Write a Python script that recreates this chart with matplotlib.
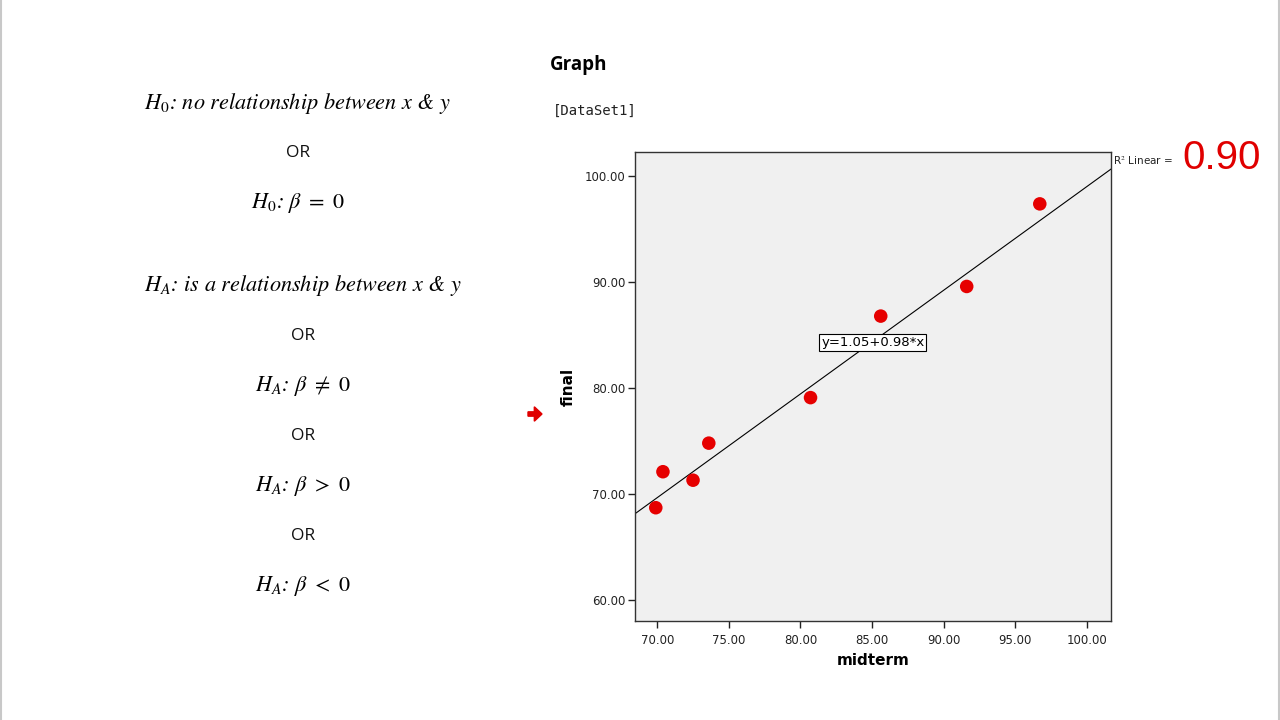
import numpy as np
import matplotlib.pyplot as plt
import matplotlib.patches as mpatches

# data
midterm = [69.9, 70.4, 72.5, 73.6, 80.7, 85.6, 91.6, 96.7]
final = [68.7, 72.1, 71.3, 74.8, 79.1, 86.8, 89.6, 97.4]
intercept = 1.05
slope = 0.98
r2_text = "0.90"
xticks = [70, 75, 80, 85, 90, 95, 100]
yticks = [60, 70, 80, 90, 100]

hyp_lines = [
    r"$H_0$: no relationship between $x$ & $y$",
    "OR",
    r"$H_0$: $\beta\ =\ 0$",
    r"$H_A$: is a relationship between $x$ & $y$",
    "OR",
    r"$H_A$: $\beta\ \neq\ 0$",
    "OR",
    r"$H_A$: $\beta\ >\ 0$",
    "OR",
    r"$H_A$: $\beta\ <\ 0$",
]
hyp_xy = [(298, 103), (298, 153), (298, 203), (303, 286), (303, 336),
          (303, 386), (303, 436), (303, 486), (303, 536), (303, 586)]

plt.rcParams['mathtext.fontset'] = 'stix'

fig = plt.figure(figsize=(12.8, 7.2), dpi=100)
W, H = 1280, 720

def fx(px):
    return px / W

def fy(py):
    return 1 - py / H

# slide border
fig.add_artist(plt.Line2D([0.001, 0.001], [0, 1], color='#c8c8c8', lw=1.5, transform=fig.transFigure))
fig.add_artist(plt.Line2D([0.999, 0.999], [0, 1], color='#c8c8c8', lw=1.5, transform=fig.transFigure))

# left text block
for txt, (px, py) in zip(hyp_lines, hyp_xy):
    if txt == "OR":
        fig.text(fx(px), fy(py), txt, ha='center', va='center', fontsize=12.5,
                 family='Open Sans', color='#111111')
    else:
        fig.text(fx(px), fy(py), txt, ha='center', va='center', fontsize=16,
                 family='STIXGeneral', style='italic', color='black')

# headings
fig.text(fx(550), fy(65), "Graph", fontsize=13.5, fontweight='bold', ha='left', va='center',
         family='Open Sans')
fig.text(fx(553), fy(111), "[DataSet1]", fontsize=10, ha='left', va='center',
         family='DejaVu Sans Mono', color='#222222')

# red arrow
fig.add_artist(mpatches.FancyArrow(fx(528), fy(414), fx(14), 0, width=0.006, head_width=0.02,
                                   head_length=0.006, color='#e00000', transform=fig.transFigure,
                                   length_includes_head=True))

# scatter plot
ax = fig.add_axes([fx(635), fy(621), fx(1111) - fx(635), fy(152) - fy(621)])
ax.set_facecolor('#f0f0f0')
ax.scatter(midterm, final, s=95, color='#e60000', zorder=3, edgecolors='none')

xl = (68.45, 101.67)
ax.set_xlim(xl)
ax.set_ylim(58.0, 102.3)
xs = np.array(xl)
ax.plot(xs, intercept + slope * xs, color='black', lw=0.8, zorder=2)

ax.set_xticks(xticks)
ax.set_yticks(yticks)
ax.set_xticklabels([f"{v:.2f}" for v in xticks])
ax.set_yticklabels([f"{v:.2f}" for v in yticks])
ax.tick_params(direction='out', length=5, width=1, labelsize=8.5, colors='#222222')
ax.tick_params(axis='y', pad=2)
for s in ax.spines.values():
    s.set_color('#333333')
    s.set_linewidth(1)
ax.tick_params(axis='x', pad=4)
ax.set_xlabel("midterm", fontsize=11, fontweight='bold', labelpad=5)
ax.set_ylabel("final", fontsize=11, fontweight='bold', labelpad=6)

ax.text(85.05, intercept + slope * 85.05 - 0.1, "y=1.05+0.98*x", ha='center', va='center', fontsize=9.5,
        bbox=dict(boxstyle='square,pad=0.15', facecolor='white', edgecolor='black', lw=0.8), zorder=4)

fig.text(fx(1113), fy(161), r"R$^2$ Linear =", fontsize=7.5, ha='left', va='center', color='#222222')
fig.text(fx(1182), fy(158), r2_text, fontsize=29, ha='left', va='center', color='#e00000',
         family='Liberation Sans')

fig.savefig("out.png", dpi=100)
